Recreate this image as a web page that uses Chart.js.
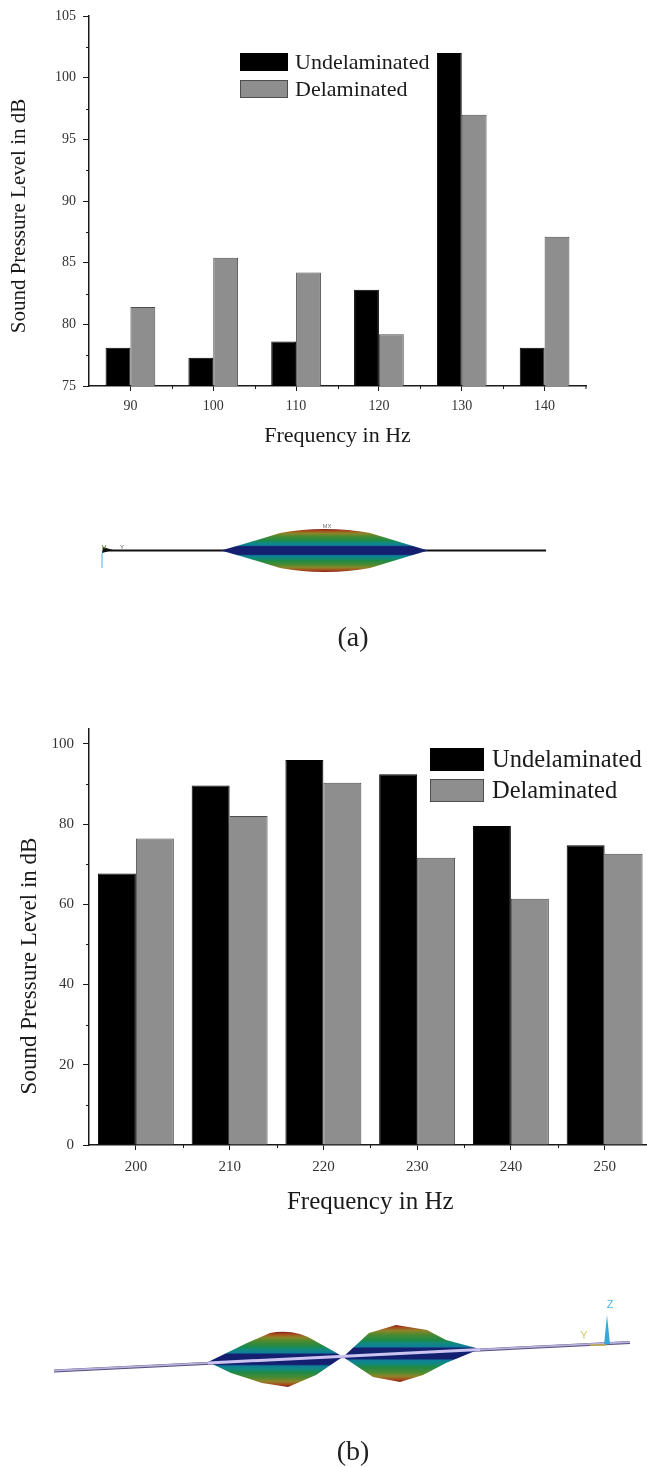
<!DOCTYPE html>
<html>
<head>
<meta charset="utf-8">
<title>Sound pressure level</title>
<script src="https://cdn.jsdelivr.net/npm/chart.js@4"></script>
<style>
  html, body { margin: 0; padding: 0; background: #fff; }
  #page { position: relative; width: 647px; height: 1467px; overflow: hidden; filter: blur(0.45px); }
  canvas, svg { position: absolute; display: block; }
  #chartA { left: 0; top: 0; }
  #chartB { left: 0; top: 700px; }
  svg { left: 0; top: 0; }
  .cap { position: absolute; left: 0; width: 706px; text-align: center; font: 28px "Liberation Serif", serif; color: #222; }
</style>
</head>
<body>
<div id="page">
  <canvas id="chartA" width="647" height="455"></canvas>
  <canvas id="chartB" width="680" height="520"></canvas>

  <svg width="647" height="1467" viewBox="0 0 647 1467">
    <defs>
      <linearGradient id="bands" x1="0" y1="0" x2="0" y2="1">
        <stop offset="0" stop-color="#7d1a12"/>
        <stop offset="0.04" stop-color="#a8481c"/>
        <stop offset="0.10" stop-color="#8f8428"/>
        <stop offset="0.17" stop-color="#4c8a30"/>
        <stop offset="0.27" stop-color="#1c8a48"/>
        <stop offset="0.32" stop-color="#118a80"/>
        <stop offset="0.38" stop-color="#0f7f98"/>
        <stop offset="0.41" stop-color="#14206f"/>
        <stop offset="0.59" stop-color="#14206f"/>
        <stop offset="0.62" stop-color="#0f7f98"/>
        <stop offset="0.68" stop-color="#118a80"/>
        <stop offset="0.73" stop-color="#1c8a48"/>
        <stop offset="0.83" stop-color="#4c8a30"/>
        <stop offset="0.90" stop-color="#8f8428"/>
        <stop offset="0.96" stop-color="#a8481c"/>
        <stop offset="1" stop-color="#7d1a12"/>
      </linearGradient>
    </defs>

    <!-- mode shape (a) -->
    <line x1="103" y1="550.5" x2="546" y2="550.5" stroke="#111" stroke-width="1.8"/>
    <path d="M102 553 L103 547 L113 550 Z" fill="#111"/>
    <line x1="102" y1="553" x2="102" y2="568" stroke="#a9d6f0" stroke-width="2"/>
    <path d="M221 550.5 L247 543 L280 533 Q302 529 325 529 Q348 529 370 533 L403 543 L428 550.5 L403 558 L370 568 Q348 572 325 572 Q302 572 280 568 L247 558 Z" fill="url(#bands)"/>
    <text x="327" y="528" font-family="Liberation Sans" font-size="6" fill="#777" text-anchor="middle">MX</text>
    <text x="122" y="549" font-family="Liberation Sans" font-size="6" fill="#555" text-anchor="middle">Y</text>
    <text x="104" y="549" font-family="Liberation Sans" font-size="6" fill="#6a8a4a" text-anchor="middle">M</text>

    <!-- mode shape (b) -->
    <line x1="54" y1="1371" x2="630" y2="1342.5" stroke="#55507a" stroke-width="3"/>
    <line x1="54" y1="1370.6" x2="630" y2="1342.1" stroke="#b9b2dc" stroke-width="1.8"/>
    <path d="M208 1362 L247 1343 L270 1333 Q285 1330 300 1334 L308 1337 L335 1352 L343 1357 L341 1358 L316 1375 L288 1387 L262 1383 L231 1373 Z" fill="url(#bands)"/>
    <path d="M343 1357 L369 1333 L396 1325 L427 1330 L446 1340 L480 1349 L446 1363 L423 1375 L400 1382 L373 1377 Z" fill="url(#bands)"/>
    <line x1="208" y1="1363" x2="480" y2="1349.5" stroke="#cbc4f0" stroke-width="3"/>
    <path d="M604 1345 L607 1315 L610 1344 Z" fill="#3aa6d8"/>
    <line x1="590" y1="1345" x2="606" y2="1345" stroke="#c8b048" stroke-width="1.5"/>
    <text x="610" y="1308" font-family="Liberation Sans" font-size="11" fill="#55b5e6" text-anchor="middle">Z</text>
    <text x="584" y="1339" font-family="Liberation Sans" font-size="11" fill="#d8cc6a" text-anchor="middle">Y</text>
  </svg>

  <div class="cap" style="top:621px">(a)</div>
  <div class="cap" style="top:1435px">(b)</div>
</div>

<script>
const seriesNames = ['Undelaminated', 'Delaminated'];

const freqA = ['90', '100', '110', '120', '130', '140'];
const undelamA = [78.1, 77.3, 78.6, 82.8, 102, 78.1];
const delamA   = [81.4, 85.4, 84.2, 79.2, 97, 87.1];

const freqB = ['200', '210', '220', '230', '240', '250'];
const undelamB = [67.7, 89.6, 96, 92.4, 79.5, 74.7];
const delamB   = [76.4, 82, 90.3, 71.6, 61.4, 72.6];

const INK = '#1a1a1a', GRAY = '#8e8e8e', GRAY_EDGE = '#4d4d4d';
const SERIF = '"Liberation Serif", serif';

// minor ticks, the y title (sits off centre in the original) and the legend inside the plot
const extras = {
  id: 'extras',
  afterDraw(chart, args, o) {
    const { ctx, scales: { x, y } } = chart;
    ctx.save();
    ctx.strokeStyle = INK;
    ctx.lineWidth = 1;
    ctx.beginPath();
    for (let v = y.min + o.minorOffset; v < y.max; v += o.minorStep) {
      const py = Math.round(y.getPixelForValue(v)) + 0.5;
      ctx.moveTo(x.left, py);
      ctx.lineTo(x.left - 3, py);
    }
    for (let i = 1; i < x.ticks.length; i++) {
      const px = Math.round((x.getPixelForTick(i - 1) + x.getPixelForTick(i)) / 2) + 0.5;
      ctx.moveTo(px, y.bottom);
      ctx.lineTo(px, y.bottom + 3);
    }
    const last = x.getPixelForTick(x.ticks.length - 1) + (x.getPixelForTick(1) - x.getPixelForTick(0)) / 2;
    ctx.moveTo(last, y.bottom);
    ctx.lineTo(last, y.bottom + 3);
    ctx.stroke();

    ctx.save();
    ctx.translate(o.yTitle.x, o.yTitle.y);
    ctx.rotate(-Math.PI / 2);
    ctx.fillStyle = INK;
    ctx.font = o.yTitle.size + 'px ' + SERIF;
    ctx.textAlign = 'center';
    ctx.textBaseline = 'middle';
    ctx.fillText('Sound Pressure Level in dB', 0, 0);
    ctx.restore();

    const lg = o.legend;
    chart.data.datasets.forEach((ds, i) => {
      const top = lg.y + i * lg.gap;
      ctx.fillStyle = ds.backgroundColor;
      ctx.strokeStyle = ds.borderColor;
      ctx.fillRect(lg.x, top, lg.w, lg.h);
      ctx.strokeRect(lg.x + 0.5, top + 0.5, lg.w - 1, lg.h - 1);
      ctx.fillStyle = INK;
      ctx.font = lg.size + 'px ' + SERIF;
      ctx.textBaseline = 'middle';
      ctx.textAlign = 'left';
      ctx.fillText(ds.label, lg.x + lg.w + lg.pad, top + lg.h / 2 + 1);
    });
    ctx.restore();
  }
};

function barChart(id, labels, und, del, cfg) {
  return new Chart(document.getElementById(id), {
    type: 'bar',
    plugins: [extras],
    data: {
      labels,
      datasets: [
        { label: seriesNames[0], data: und, backgroundColor: '#000000', borderColor: '#000000', borderWidth: 1 },
        { label: seriesNames[1], data: del, backgroundColor: GRAY, borderColor: GRAY_EDGE, borderWidth: 1 }
      ]
    },
    options: {
      responsive: false,
      animation: false,
      categoryPercentage: cfg.groupWidth,
      barPercentage: 1,
      layout: { padding: { top: cfg.top, right: cfg.right, left: 0, bottom: 0 } },
      plugins: {
        legend: { display: false },
        tooltip: { enabled: false },
        extras: { minorStep: cfg.step, minorOffset: cfg.step / 2, legend: cfg.legend, yTitle: cfg.yTitle }
      },
      scales: {
        x: {
          offset: true,
          grid: { display: true, drawOnChartArea: false, offset: false, tickLength: 5, tickColor: INK, tickWidth: 1 },
          border: { color: INK, width: 1.5 },
          ticks: { color: '#333', font: { family: SERIF, size: cfg.tickSize }, padding: cfg.tickPad, maxRotation: 0 },
          title: { display: true, text: 'Frequency in Hz', color: INK, font: { family: SERIF, size: cfg.titleSize }, padding: { top: 0, bottom: cfg.xTitleBottom } },
          afterFit(s) { s.height = cfg.xHeight; }
        },
        y: {
          min: cfg.min,
          max: cfg.max,
          grid: { display: true, drawOnChartArea: false, tickLength: 6, tickColor: INK, tickWidth: 1 },
          border: { color: INK, width: 1.5 },
          ticks: { stepSize: cfg.step, includeBounds: false, color: '#333', font: { family: SERIF, size: cfg.tickSize }, padding: cfg.yTickPad },
          afterFit(s) { s.width = 89; }
        }
      }
    }
  });
}

barChart('chartA', freqA, undelamA, delamA, {
  groupWidth: 0.6, top: 16, right: 61, min: 75, max: 105, step: 5,
  tickSize: 14, tickPad: 7, yTickPad: 7, titleSize: 22, xHeight: 69, xTitleBottom: 6,
  yTitle: { x: 19, y: 216, size: 21 },
  legend: { x: 240, y: 53, w: 48, h: 18, gap: 27, pad: 7, size: 22 }
});

barChart('chartB', freqB, undelamB, delamB, {
  groupWidth: 0.81, top: 29, right: 28.5, min: 0, max: 103.7, step: 20,
  tickSize: 15, tickPad: 8, yTickPad: 9, titleSize: 25, xHeight: 75, xTitleBottom: 3,
  yTitle: { x: 30, y: 266, size: 23 },
  legend: { x: 430, y: 48, w: 54, h: 23, gap: 31, pad: 8, size: 24.5 }
});
</script>
</body>
</html>
